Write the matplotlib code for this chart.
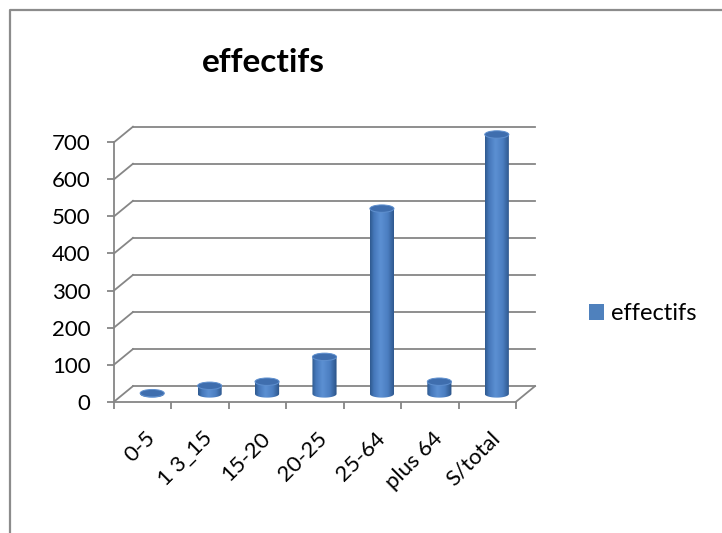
import numpy as np
import matplotlib
matplotlib.use("Agg")
import matplotlib.pyplot as plt
from matplotlib.patches import Ellipse, PathPatch, Patch
from matplotlib.path import Path
from matplotlib.colors import LinearSegmentedColormap
from matplotlib.lines import Line2D

categories = ["0-5", "1 3_15", "15-20", "20-25", "25-64", "plus 64", "S/total"]
effectifs = [2, 22, 33, 100, 500, 33, 700]
y_ticks = [0, 100, 200, 300, 400, 500, 600, 700]
series_name = "effectifs"
chart_title = "effectifs"

plt.rcParams["font.family"] = ["Lato", "DejaVu Sans"]

W, H = 722, 533
fig = plt.figure(figsize=(W / 100, H / 100), dpi=100)
fig.patch.set_facecolor("white")

GRID = "#868686"
LW = 1.3
DX = 0.33    # oblique depth offset, category units
DY = 42.0    # oblique depth offset, value units
n = len(categories)

ax = fig.add_axes([114 / W, (H - 401.7) / H, 421 / W, 275 / H])
ax.set_xlim(0, n + DX)
ax.set_ylim(0, y_ticks[-1] + DY)
ax.patch.set_alpha(0)

# side wall and back wall gridlines
for v in y_ticks:
    ax.plot([0, DX], [v, v + DY], color=GRID, lw=LW, clip_on=False, zorder=1)
    ax.plot([DX, n + DX], [v + DY, v + DY], color=GRID, lw=LW, clip_on=False, zorder=1)
# right edge of the floor
ax.plot([n, n + DX], [0, DY], color=GRID, lw=LW, clip_on=False, zorder=1)

# front axes
for side in ("top", "right"):
    ax.spines[side].set_visible(False)
ax.spines["left"].set_bounds(0, y_ticks[-1])
ax.spines["bottom"].set_bounds(0, n)
for side in ("left", "bottom"):
    ax.spines[side].set_color(GRID)
    ax.spines[side].set_linewidth(LW)
    ax.spines[side].set_zorder(5)

ax.set_yticks(y_ticks)
ax.set_yticklabels([str(v) for v in y_ticks])
ax.tick_params(axis="y", length=5, width=LW, color=GRID, pad=12, labelsize=16)
ax.set_xticks(range(n + 1))
ax.set_xticklabels([])
ax.tick_params(axis="x", which="major", length=5, width=LW, color=GRID)
ax.set_xticks([i + 0.5 + DX / 2 for i in range(n)], labels=categories, minor=True)
ax.tick_params(axis="x", which="minor", length=0, pad=24, labelsize=16)
for lbl in ax.get_xticklabels(minor=True):
    lbl.set_rotation(45)
    lbl.set_ha("right")
    lbl.set_va("center")
    lbl.set_rotation_mode("anchor")

# cylinders
body_cmap = LinearSegmentedColormap.from_list(
    "cyl", [(0.0, "#2f5a8f"), (0.15, "#4577b9"), (0.42, "#5c90d3"),
            (0.72, "#4b7ec1"), (1.0, "#2b5387")])
grad = np.linspace(0, 1, 64).reshape(1, -1)
bw = 0.42     # cylinder width, category units
eh = 20.0     # ellipse height, value units
base = DY / 2
for i, v in enumerate(effectifs):
    cx = i + 0.5 + DX / 2
    top = base + v
    t = np.linspace(np.pi, 2 * np.pi, 40)
    xs = np.concatenate([[cx - bw / 2, cx - bw / 2], cx + bw / 2 * np.cos(t), [cx + bw / 2]])
    ys = np.concatenate([[top, base], base + eh / 2 * np.sin(t), [top]])
    verts = np.column_stack([xs, ys])
    verts = np.vstack([verts, verts[:1]])
    codes = [Path.MOVETO] + [Path.LINETO] * (len(verts) - 2) + [Path.CLOSEPOLY]
    body = PathPatch(Path(verts, codes), facecolor="none", edgecolor="none",
                     transform=ax.transData, zorder=3)
    ax.add_patch(body)
    im = ax.imshow(grad, extent=[cx - bw / 2, cx + bw / 2, base - eh / 2, top],
                   aspect="auto", cmap=body_cmap, interpolation="bilinear", zorder=3)
    im.set_clip_path(body)
    ax.add_patch(Ellipse((cx, top), bw, eh, facecolor="#3f6eae",
                         edgecolor="#5f90cf", lw=0.7, zorder=4))

ax.set_xlim(0, n + DX)
ax.set_ylim(0, y_ticks[-1] + DY)

# title and legend
fig.text(263.5 / W, 1 - 72 / H, chart_title, ha="center", va="baseline",
         fontsize=24, fontweight="bold")
fig.legend(handles=[Patch(facecolor="#4f81bd", edgecolor="none")], labels=[series_name],
           loc="center left", bbox_to_anchor=(589 / W, 1 - 314 / H), frameon=False,
           fontsize=17, handlelength=0.65, handleheight=0.65, handletextpad=0.3,
           borderpad=0, borderaxespad=0)

# chart area border
fig.add_artist(Line2D([9.5 / W, 9.5 / W, 1], [0, 1 - 9.5 / H, 1 - 9.5 / H],
                      transform=fig.transFigure, color="#8c8c8c", lw=1.6))

fig.savefig("out.png", dpi=100)
